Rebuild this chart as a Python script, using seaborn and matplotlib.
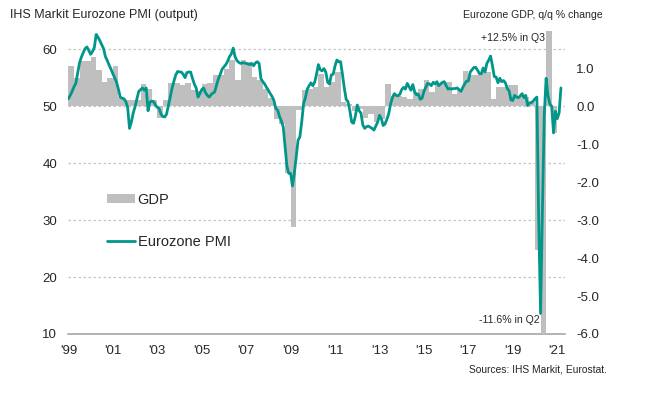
import numpy as np
import pandas as pd
import matplotlib
matplotlib.use("Agg")
import matplotlib.pyplot as plt
import seaborn as sns
from matplotlib.lines import Line2D
from matplotlib.patches import Patch
from matplotlib.transforms import blended_transform_factory

# ---------------- data ----------------
pmi_first_month = "1999-01"
pmi_values = [
    # 1999
    51.3, 51.9, 52.6, 53.4, 54.0, 55.8, 57.6, 58.6, 59.4, 60.1, 60.4, 59.8,
    # 2000
    59.1, 59.6, 60.3, 62.6, 62.1, 61.5, 60.8, 60.1, 58.7, 58.0, 57.2, 56.5,
    # 2001
    55.7, 55.0, 54.2, 53.0, 51.6, 51.4, 51.3, 50.8, 49.8, 46.1, 47.2, 48.8,
    # 2002
    49.9, 51.3, 52.6, 52.9, 53.2, 52.8, 53.2, 49.2, 50.7, 50.9, 50.8, 50.2,
    # 2003
    49.8, 49.6, 48.6, 48.2, 48.1, 48.6, 50.1, 51.6, 53.2, 54.4, 55.5, 56.1,
    # 2004
    56.0, 56.0, 55.6, 55.0, 55.9, 56.0, 56.0, 54.9, 53.9, 53.2, 51.6, 52.2,
    # 2005
    52.9, 53.2, 52.4, 51.9, 51.6, 52.0, 52.3, 52.5, 53.7, 54.8, 55.6, 56.5,
    # 2006
    56.9, 57.3, 57.9, 58.7, 59.2, 60.2, 58.7, 58.0, 57.7, 57.5, 57.6, 57.6,
    # 2007
    57.5, 57.4, 57.3, 57.5, 57.1, 57.6, 57.8, 57.5, 54.8, 54.3, 53.9, 53.3,
    # 2008
    52.8, 52.2, 51.7, 51.0, 49.6, 49.3, 48.2, 47.4, 46.4, 43.0, 39.5, 38.2,
    # 2009
    38.2, 36.0, 38.2, 41.0, 44.0, 44.6, 47.2, 50.4, 51.5, 53.0, 53.6, 54.1,
    # 2010
    53.6, 54.2, 55.6, 57.3, 56.4, 56.2, 56.6, 56.0, 54.2, 53.9, 55.5, 55.6,
    # 2011
    57.1, 58.1, 57.8, 57.8, 55.6, 53.2, 51.2, 50.8, 49.2, 47.2, 47.0, 48.3,
    # 2012
    50.2, 49.2, 48.8, 46.7, 46.1, 46.4, 46.5, 46.3, 46.1, 45.8, 46.5, 47.2,
    # 2013
    48.4, 47.8, 46.6, 46.9, 47.7, 48.7, 50.4, 51.5, 52.2, 51.9, 51.8, 52.1,
    # 2014
    52.9, 53.3, 53.0, 54.0, 53.4, 52.8, 53.8, 52.5, 52.0, 52.1, 51.2, 51.4,
    # 2015
    52.6, 53.3, 54.0, 53.9, 53.6, 54.2, 53.9, 54.3, 53.6, 53.9, 54.2, 54.3,
    # 2016
    53.6, 53.0, 53.1, 53.0, 53.1, 53.1, 53.2, 52.9, 52.6, 53.3, 53.9, 54.4,
    # 2017
    54.4, 56.0, 56.4, 56.8, 56.8, 56.3, 55.7, 55.7, 56.7, 56.0, 57.5, 58.1,
    # 2018
    58.8, 57.1, 55.2, 55.1, 54.1, 54.9, 54.3, 54.5, 54.1, 53.1, 52.7, 51.1,
    # 2019
    51.0, 51.9, 51.6, 51.5, 51.8, 52.2, 51.5, 51.9, 50.1, 50.6, 50.6, 50.9,
    # 2020
    51.3, 51.6, 29.7, 13.6, 31.9, 48.5, 54.9, 51.9, 50.4, 50.0, 45.3, 49.1,
    # 2021
    47.8, 48.8, 53.2,
]

gdp_first_quarter = "1999Q1"
gdp_values = [
    1.05, 0.73, 1.19, 1.19,     # 1999
    1.30, 0.95, 0.64, 0.73,     # 2000
    1.05, 0.24, 0.17, 0.17,     # 2001
    0.17, 0.59, 0.46, 0.15,     # 2002
    -0.32, 0.15, 0.61, 0.62,    # 2003
    0.55, 0.60, 0.42, 0.40,     # 2004
    0.58, 0.60, 0.83, 0.83,     # 2005
    0.98, 1.21, 0.68, 1.21,     # 2006
    1.17, 0.77, 0.68, 0.46,     # 2007
    0.22, -0.34, -0.47, -1.76,  # 2008
    -3.17, -0.10, 0.43, 0.46,   # 2009
    0.50, 0.86, 0.50, 0.64,     # 2010
    0.90, 0.10, 0.06, -0.12,    # 2011
    -0.07, -0.30, -0.20, -0.42, # 2012
    -0.34, 0.59, 0.28, 0.28,    # 2013
    0.24, 0.19, 0.37, 0.45,     # 2014
    0.70, 0.37, 0.59, 0.64,     # 2015
    0.64, 0.33, 0.42, 0.92,     # 2016
    0.81, 0.81, 0.90, 0.90,     # 2017
    0.19, 0.50, 0.50, 0.55,     # 2018
    0.55, 0.28, 0.24, 0.10,     # 2019
    -3.80, -11.6, 12.5, -0.70,  # 2020
]

pmi_ticks = [10, 20, 30, 40, 50, 60]
pmi_grid = [20, 30, 40, 50, 60]
gdp_ticks = [-6.0, -5.0, -4.0, -3.0, -2.0, -1.0, 0.0, 1.0]
year_ticks = list(range(1999, 2022, 2))
year_labels = ["'99", "'01", "'03", "'05", "'07", "'09", "'11", "'13", "'15",
               "'17", "'19", "'21"]

title_left = "IHS Markit Eurozone PMI (output)"
title_right = "Eurozone GDP, q/q % change"
source = "Sources: IHS Markit, Eurostat."
label_gdp = "GDP"
label_pmi = "Eurozone PMI"
note_q3 = "+12.5% in Q3"
note_q2 = "-11.6% in Q2"

# ---------------- style ----------------
sns.set_theme(style="white")
plt.rcParams["font.family"] = ["Liberation Sans", "DejaVu Sans"]

BAR = "#BFBFBF"
LINE = "#00968A"
TXT = "#262626"
GRID = "#C4C4C4"
AXIS = "#A6A6A6"

months = pd.period_range(pmi_first_month, periods=len(pmi_values), freq="M")
x_pmi = months.year + (months.month - 1) / 12.0
quarters = pd.period_range(gdp_first_quarter, periods=len(gdp_values), freq="Q")
x_gdp = quarters.year + (quarters.quarter - 1) / 4.0

W, H = 668, 394
fig = plt.figure(figsize=(W / 100, H / 100), dpi=100)
fig.patch.set_facecolor("white")

left_px, right_px, top_px, bottom_px = 68.4, 565.0, 31.0, 334.0
rect = [left_px / W, 1 - bottom_px / H, (right_px - left_px) / W, (bottom_px - top_px) / H]

gdp_top = 1.98
pmi_lim = (10, 50 + gdp_top * 20 / 3)
x_lim = (1999.0, 1999.0 + (right_px - left_px) / 22.22)

# base axes: PMI scale, grid + left labels + x axis
ax = fig.add_axes(rect)
ax.set_xlim(*x_lim)
ax.set_ylim(*pmi_lim)
for g in pmi_grid:
    ax.axhline(g, color=GRID, lw=0.9, ls=(0, (2, 2)), zorder=0)
ax.set_yticks(pmi_ticks)
ax.set_yticklabels([str(t) for t in pmi_ticks])
ax.tick_params(axis="y", length=0, pad=8, labelsize=9.5, labelcolor=TXT)
ax.set_xticks(year_ticks)
ax.set_xticklabels(year_labels)
ax.tick_params(axis="x", length=4, width=0.8, color=AXIS, direction="out",
               pad=4, labelsize=9.5, labelcolor=TXT)
for s in ["left", "right", "top"]:
    ax.spines[s].set_visible(False)
ax.spines["bottom"].set_color(AXIS)
ax.spines["bottom"].set_linewidth(1.2)

# GDP bars axis
axg = ax.twinx()
axg.set_xlim(*x_lim)
axg.bar(x_gdp, gdp_values, width=0.25, align="edge", color=BAR, linewidth=0, zorder=1)
axg.set_ylim(-6.0, gdp_top)
axg.set_yticks(gdp_ticks)
axg.set_yticklabels([f"{t:.1f}" for t in gdp_ticks])
axg.tick_params(axis="y", length=0, pad=8, labelsize=9.5, labelcolor=TXT)
for s in axg.spines.values():
    s.set_visible(False)

# PMI line axis (on top)
axl = ax.twinx()
axl.set_xlim(*x_lim)
axl.set_ylim(*pmi_lim)
df = pd.DataFrame({"x": x_pmi, "pmi": pmi_values})
sns.lineplot(data=df, x="x", y="pmi", ax=axl, color=LINE, lw=2.0)
axl.set_yticks([])
axl.set_xlabel("")
axl.set_ylabel("")
for s in axl.spines.values():
    s.set_visible(False)
ax.set_xlabel("")
axg.set_ylabel("")

# legend
handles = [Patch(facecolor=BAR, edgecolor="none", label=label_gdp),
           Line2D([0], [0], color=LINE, lw=2.0, label=label_pmi)]
fig.legend(handles=handles, loc="upper left",
           bbox_to_anchor=(107 / W, 1 - 193 / H), frameon=False,
           fontsize=10.5, handlelength=1.9, handleheight=0.6,
           handletextpad=0.2, labelspacing=1.9, borderpad=0, borderaxespad=0,
           labelcolor=TXT)

# annotations anchored at the 2020 quarters
q3_x = x_gdp[list(quarters.astype(str)).index("2020Q3")]
q2_x = x_gdp[list(quarters.astype(str)).index("2020Q2")]
tr = blended_transform_factory(axg.transData, axg.transAxes)
axl.text(q3_x - 0.07, 0.977, note_q3, transform=tr, ha="right", va="center",
         fontsize=7.6, color=TXT)
axl.text(q2_x - 0.04, 0.046, note_q2, transform=tr, ha="right", va="center",
         fontsize=7.6, color=TXT)

# titles and source
fig.text(10 / W, 1 - 15 / H, title_left, ha="left", va="center", fontsize=9.0, color=TXT)
fig.text(603 / W, 1 - 15 / H, title_right, ha="right", va="center", fontsize=7.6, color=TXT)
fig.text(607 / W, 1 - 369 / H, source, ha="right", va="center", fontsize=7.4, color=TXT)

fig.savefig("out.png", dpi=100, facecolor="white")
